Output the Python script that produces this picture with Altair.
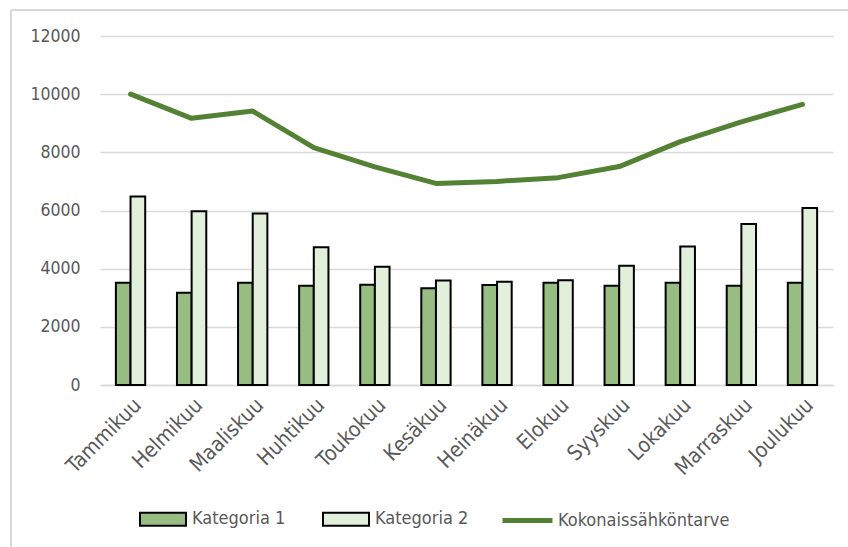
import altair as alt
import pandas as pd

months = ["Tammikuu", "Helmikuu", "Maaliskuu", "Huhtikuu", "Toukokuu", "Kesäkuu",
          "Heinäkuu", "Elokuu", "Syyskuu", "Lokakuu", "Marraskuu", "Joulukuu"]
kategoria1 = [3520, 3170, 3520, 3410, 3450, 3330, 3440, 3520, 3410, 3520, 3410, 3520]
kategoria2 = [6480, 5970, 5900, 4740, 4070, 3590, 3550, 3600, 4100, 4760, 5540, 6090]
kokonais = [10000, 9170, 9420, 8160, 7500, 6930, 7000, 7130, 7510, 8370, 9050, 9650]
series_names = ["Kategoria 1", "Kategoria 2"]
line_name = "Kokonaissähköntarve"

bars_df = pd.DataFrame(
    [{"kk": m, "sarja": series_names[0], "arvo": v} for m, v in zip(months, kategoria1)]
    + [{"kk": m, "sarja": series_names[1], "arvo": v} for m, v in zip(months, kategoria2)]
)
line_df = pd.DataFrame({"kk": months, "sarja": line_name, "arvo": kokonais})

FONT = "Liberation Sans Narrow, DejaVu Sans Condensed, sans-serif"
GRAY = "#595959"

x_enc = alt.X("kk:N", sort=months, title=None,
              scale=alt.Scale(paddingInner=0.52, paddingOuter=0.26),
              axis=alt.Axis(labelAngle=-45, labelFontSize=21, labelColor=GRAY, labelFont=FONT,
                            ticks=False, domainColor="#d9d9d9", domainWidth=1.3,
                            labelPadding=9, grid=False))
y_enc = alt.Y("arvo:Q", title=None,
              scale=alt.Scale(domain=[0, 12000], nice=False),
              axis=alt.Axis(values=list(range(0, 12001, 2000)), format="d", labelFontSize=17.5,
                            labelColor=GRAY, labelFont=FONT, ticks=False, domain=False,
                            gridColor="#d9d9d9", gridWidth=1.3, labelPadding=20))

bars = alt.Chart(bars_df).mark_bar(stroke="black", strokeWidth=2).encode(
    x=x_enc,
    y=y_enc,
    xOffset=alt.XOffset("sarja:N", sort=series_names, scale=alt.Scale(paddingInner=0, paddingOuter=0)),
    fill=alt.Fill("sarja:N", sort=series_names,
                  scale=alt.Scale(domain=series_names, range=["#98BD82", "#E2EFDA"]),
                  legend=alt.Legend(title=None, orient="none", direction="horizontal",
                                    legendX=39, legendY=459,
                                    symbolType="M-1,-0.28L1,-0.28L1,0.28L-1,0.28Z",
                                    symbolSize=2116, symbolStrokeColor="black",
                                    symbolStrokeWidth=2, labelFontSize=18, labelColor=GRAY,
                                    labelFont=FONT, labelOffset=5, columnPadding=33,
                                    labelLimit=300)),
)

line = alt.Chart(line_df).mark_line(strokeWidth=5, strokeCap="round", strokeJoin="round").encode(
    x=alt.X("kk:N", sort=months),
    y=alt.Y("arvo:Q"),
    stroke=alt.Stroke("sarja:N",
                      scale=alt.Scale(domain=[line_name], range=["#548235"]),
                      legend=alt.Legend(title=None, orient="none", legendX=400, legendY=457,
                                        symbolType="stroke", symbolSize=2500,
                                        symbolStrokeWidth=5, labelFontSize=18,
                                        labelColor=GRAY, labelFont=FONT, labelOffset=3,
                                        labelLimit=400)),
)

frame_top = alt.Chart(pd.DataFrame({"a": [0]})).mark_rule(
    color="#d9d9d9", strokeWidth=2
).encode(x=alt.value(-89), x2=alt.value(760), y=alt.value(-26))
frame_left = alt.Chart(pd.DataFrame({"a": [0]})).mark_rule(
    color="#d9d9d9", strokeWidth=2
).encode(x=alt.value(-89), y=alt.value(-26), y2=alt.value(520))

chart = alt.layer(frame_top, frame_left, bars, line).properties(
    width=733, height=349,
    padding={"left": 100, "top": 36, "right": 15, "bottom": 162},
    autosize=alt.AutoSizeParams(type="none"),
    view=alt.ViewBackground(stroke="transparent", strokeWidth=0),
).configure_view(strokeWidth=0, stroke="transparent").configure(background="white")

chart.save("out.html", embed_options={"renderer": "svg", "actions": False})
